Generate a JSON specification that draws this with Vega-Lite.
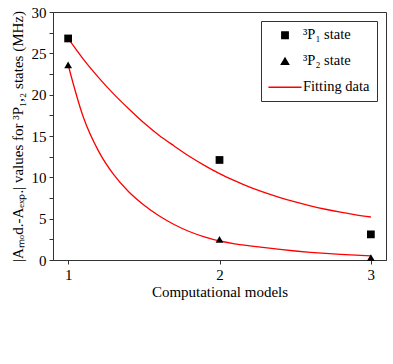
{
  "$schema": "https://vega.github.io/schema/vega-lite/v6.json",
  "width": 333,
  "height": 248,
  "autosize": "none",
  "padding": {"left": 53, "top": 12, "right": 7, "bottom": 104},
  "background": "white",
  "datasets": {
    "measured": [
      {"model": 1, "value": 26.8, "series": "³P₁ state"},
      {"model": 2, "value": 12.1, "series": "³P₁ state"},
      {"model": 3, "value": 3.1, "series": "³P₁ state"},
      {"model": 1, "value": 23.6, "series": "³P₂ state"},
      {"model": 2, "value": 2.5, "series": "³P₂ state"},
      {"model": 3, "value": 0.3, "series": "³P₂ state"}
    ],
    "fits": [
      {"model": 1.0, "value": 26.8, "curve": "P1", "series": "Fitting data"},
      {"model": 1.1, "value": 24.3, "curve": "P1", "series": "Fitting data"},
      {"model": 1.2, "value": 22.1, "curve": "P1", "series": "Fitting data"},
      {"model": 1.3, "value": 20.1, "curve": "P1", "series": "Fitting data"},
      {"model": 1.4, "value": 18.3, "curve": "P1", "series": "Fitting data"},
      {"model": 1.5, "value": 16.6, "curve": "P1", "series": "Fitting data"},
      {"model": 1.6, "value": 15.1, "curve": "P1", "series": "Fitting data"},
      {"model": 1.7, "value": 13.8, "curve": "P1", "series": "Fitting data"},
      {"model": 1.8, "value": 12.55, "curve": "P1", "series": "Fitting data"},
      {"model": 1.9, "value": 11.45, "curve": "P1", "series": "Fitting data"},
      {"model": 2.0, "value": 10.45, "curve": "P1", "series": "Fitting data"},
      {"model": 2.1, "value": 9.6, "curve": "P1", "series": "Fitting data"},
      {"model": 2.2, "value": 8.82, "curve": "P1", "series": "Fitting data"},
      {"model": 2.3, "value": 8.15, "curve": "P1", "series": "Fitting data"},
      {"model": 2.4, "value": 7.55, "curve": "P1", "series": "Fitting data"},
      {"model": 2.5, "value": 7.02, "curve": "P1", "series": "Fitting data"},
      {"model": 2.6, "value": 6.55, "curve": "P1", "series": "Fitting data"},
      {"model": 2.7, "value": 6.14, "curve": "P1", "series": "Fitting data"},
      {"model": 2.8, "value": 5.78, "curve": "P1", "series": "Fitting data"},
      {"model": 2.9, "value": 5.47, "curve": "P1", "series": "Fitting data"},
      {"model": 3.0, "value": 5.2, "curve": "P1", "series": "Fitting data"},
      {"model": 1.0, "value": 23.6, "curve": "P2", "series": "Fitting data"},
      {"model": 1.1, "value": 17.3, "curve": "P2", "series": "Fitting data"},
      {"model": 1.2, "value": 13.2, "curve": "P2", "series": "Fitting data"},
      {"model": 1.3, "value": 10.35, "curve": "P2", "series": "Fitting data"},
      {"model": 1.4, "value": 8.25, "curve": "P2", "series": "Fitting data"},
      {"model": 1.5, "value": 6.65, "curve": "P2", "series": "Fitting data"},
      {"model": 1.6, "value": 5.35, "curve": "P2", "series": "Fitting data"},
      {"model": 1.7, "value": 4.3, "curve": "P2", "series": "Fitting data"},
      {"model": 1.8, "value": 3.45, "curve": "P2", "series": "Fitting data"},
      {"model": 1.9, "value": 2.8, "curve": "P2", "series": "Fitting data"},
      {"model": 2.0, "value": 2.3, "curve": "P2", "series": "Fitting data"},
      {"model": 2.1, "value": 1.96, "curve": "P2", "series": "Fitting data"},
      {"model": 2.2, "value": 1.72, "curve": "P2", "series": "Fitting data"},
      {"model": 2.3, "value": 1.5, "curve": "P2", "series": "Fitting data"},
      {"model": 2.4, "value": 1.28, "curve": "P2", "series": "Fitting data"},
      {"model": 2.5, "value": 1.09, "curve": "P2", "series": "Fitting data"},
      {"model": 2.6, "value": 0.93, "curve": "P2", "series": "Fitting data"},
      {"model": 2.7, "value": 0.8, "curve": "P2", "series": "Fitting data"},
      {"model": 2.8, "value": 0.68, "curve": "P2", "series": "Fitting data"},
      {"model": 2.9, "value": 0.58, "curve": "P2", "series": "Fitting data"},
      {"model": 3.0, "value": 0.49, "curve": "P2", "series": "Fitting data"}
    ]
  },
  "encoding": {
    "x": {
      "field": "model",
      "type": "quantitative",
      "scale": {"domain": [0.9, 3.1], "nice": false, "zero": false},
      "axis": {
        "title": "Computational models",
        "values": [1, 2, 3],
        "format": "d",
        "grid": false,
        "tickSize": 4,
        "labelPadding": 3,
        "titlePadding": 2
      }
    },
    "y": {
      "field": "value",
      "type": "quantitative",
      "scale": {"domain": [0, 30], "nice": false},
      "axis": {
        "title": "|Aₘₒd.-Aₑₓₚ.| values for ³P₁,₂ states (MHz)",
        "values": [0, 2.5, 5, 7.5, 10, 12.5, 15, 17.5, 20, 22.5, 25, 27.5, 30],
        "labelExpr": "datum.value % 5 === 0 ? datum.label : ''",
        "grid": false,
        "tickSize": 4,
        "labelPadding": 3,
        "titlePadding": 6,
        "encode": {
          "ticks": {"update": {"x2": {"signal": "datum.value % 5 === 0 ? -4 : -2.5"}}}
        }
      }
    },
    "color": {
      "field": "series",
      "type": "nominal",
      "scale": {
        "domain": ["³P₁ state", "³P₂ state", "Fitting data"],
        "range": ["black", "black", "red"]
      },
      "legend": {
        "title": null,
        "orient": "top-right",
        "offset": 9,
        "padding": 7,
        "strokeColor": "#333",
        "fillColor": "white",
        "symbolSize": 64,
        "rowPadding": 11,
        "labelFont": "Liberation Serif",
        "labelFontSize": 14.5,
        "labelColor": "black",
        "encode": {
          "symbols": {
            "update": {
              "x": {"value": 17},
              "size": {"signal": "datum.value === 'Fitting data' ? 1100 : (datum.value === '³P₁ state' ? 42 : 55)"},
              "stroke": {"scale": "color", "field": "value"},
              "strokeWidth": {"value": 1.3},
              "fill": {"scale": "color", "field": "value"}
            }
          },
          "labels": {
            "update": {"x": {"value": 35}}
          }
        }
      }
    }
  },
  "layer": [
    {
      "data": {"name": "fits"},
      "mark": {"type": "line", "strokeWidth": 1.3, "interpolate": "monotone"},
      "encoding": {"detail": {"field": "curve"}}
    },
    {
      "data": {"name": "measured"},
      "mark": {"type": "point", "filled": true, "opacity": 1, "size": 60},
      "encoding": {
        "shape": {
          "field": "series",
          "type": "nominal",
          "scale": {
            "domain": ["³P₁ state", "³P₂ state", "Fitting data"],
            "range": ["square", "triangle-up", "stroke"]
          }
        }
      }
    }
  ],
  "config": {
    "font": "Liberation Serif",
    "view": {"stroke": "#333", "strokeWidth": 1},
    "axis": {
      "domainColor": "#333",
      "tickColor": "#333",
      "labelColor": "black",
      "titleColor": "black",
      "labelFont": "Liberation Serif",
      "titleFont": "Liberation Serif",
      "labelFontSize": 15,
      "titleFontSize": 15,
      "titleFontWeight": "normal"
    }
  }
}
